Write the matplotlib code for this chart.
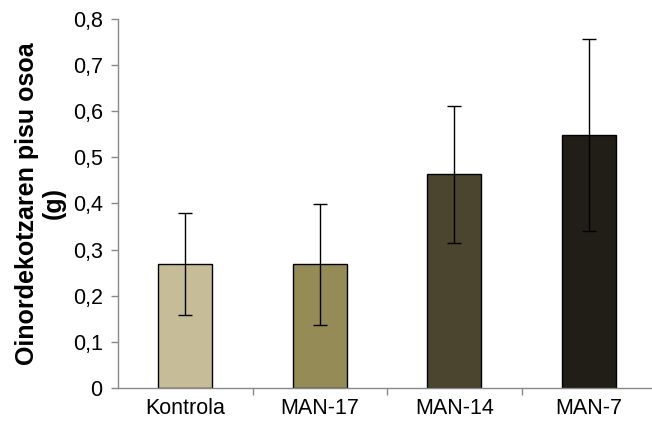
import matplotlib.pyplot as plt
import numpy as np

plt.rcParams['font.family'] = ['Liberation Sans', 'DejaVu Sans']

# Oinordekotzaren pisu osoa (g), mean and error per treatment
categories = ["Kontrola", "MAN-17", "MAN-14", "MAN-7"]
means = [0.269, 0.268, 0.463, 0.548]
errors = [0.110, 0.131, 0.148, 0.208]
colors = ["#C6BD98", "#958B56", "#4B452F", "#201E16"]

fig = plt.figure(figsize=(6.52, 4.22), dpi=100)
ax = fig.add_axes([118 / 652, 34 / 422, 538 / 652, 369.3 / 422])

x = np.arange(len(categories))
ax.bar(x, means, width=0.40, color=colors, edgecolor="black", linewidth=1.0, zorder=2)
ax.errorbar(x, means, yerr=errors, fmt="none", ecolor="black", elinewidth=1.0,
            capsize=5, capthick=1.0, zorder=3)

ax.set_xlim(-0.5, 3.5)
ax.set_ylim(0, 0.8)
yticks = np.arange(0, 0.81, 0.1)
ax.set_yticks(yticks)
ax.set_yticklabels(["0"] + [f"{v:.1f}".replace(".", ",") for v in yticks[1:]], fontsize=15.5)

# category labels in the middle, ticks on the boundaries
ax.set_xticks(x)
ax.set_xticklabels(categories, fontsize=15.5)
ax.tick_params(axis="x", which="major", length=0, pad=7)
ax.set_xticks([0.5, 1.5, 2.5], minor=True)
ax.tick_params(axis="x", which="minor", length=5, color="#888888", width=1)
ax.tick_params(axis="y", length=5, color="#888888", width=1, pad=6)

for side in ["top", "right"]:
    ax.spines[side].set_visible(False)
for side in ["left", "bottom"]:
    ax.spines[side].set_color("#888888")
    ax.spines[side].set_linewidth(1.0)

ax.set_ylabel("Oinordekotzaren pisu osoa\n(g)", fontsize=18, fontweight="bold",
              linespacing=1.15, labelpad=5)

fig.savefig("out.png", dpi=100)
